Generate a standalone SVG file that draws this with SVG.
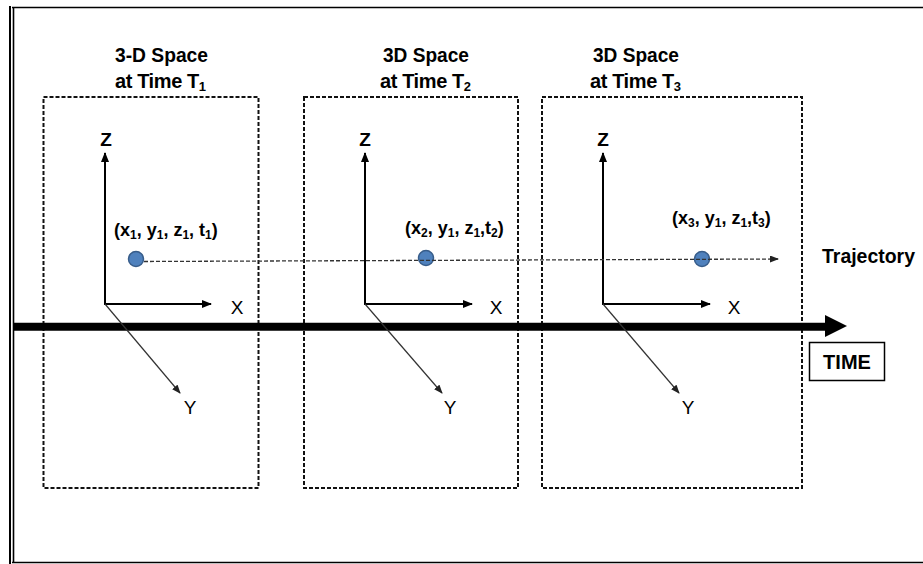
<svg xmlns="http://www.w3.org/2000/svg" width="923" height="564" viewBox="0 0 923 564">
<defs>
<style>
.t{font-family:"Liberation Sans",Arial,sans-serif;font-weight:bold;fill:#000}
.ax{font-family:"Liberation Sans",Arial,sans-serif;font-size:19px;fill:#000}
.box{fill:none;stroke:#111;stroke-width:2;stroke-dasharray:4 2}
.axis{stroke:#000;stroke-width:2;fill:none}
.yaxis{stroke:#333;stroke-width:1.2;fill:none}
.pt{fill:#4F81BD;stroke:#385D8A;stroke-width:1.5}
.ttl{letter-spacing:-0.4px}
</style>
<marker id="ah" markerWidth="10" markerHeight="8" refX="9" refY="4" orient="auto" markerUnits="userSpaceOnUse">
<path d="M0,0 L10,4 L0,8 Z" fill="#000"/>
</marker>
<marker id="ahs" markerWidth="9" markerHeight="7" refX="8" refY="3.5" orient="auto" markerUnits="userSpaceOnUse">
<path d="M0,0 L9,3.5 L0,7 Z" fill="#222"/>
</marker>
</defs>
<rect width="923" height="564" fill="#fff"/>
<g id="frame" fill="none" stroke="#000">
<line x1="10" y1="6" x2="10" y2="564" stroke-width="2"/>
<line x1="13.5" y1="7.5" x2="13.5" y2="562.5" stroke-width="1.6"/>
<line x1="12" y1="7.5" x2="923" y2="7.5" stroke-width="1.6"/>
<line x1="12" y1="562.5" x2="923" y2="562.5" stroke-width="1.6"/>
</g>
<g id="space1">
<rect class="box" x="43.5" y="97" width="215" height="391"/>
<text class="t" x="115" y="62" font-size="20" textLength="93" lengthAdjust="spacingAndGlyphs">3-D Space</text>
<text class="t ttl" x="115" y="88" font-size="20">at Time T<tspan font-size="13" dy="3">1</tspan></text>
</g>
<g id="space2">
<rect class="box" x="304" y="97" width="214" height="391"/>
<text class="t" x="383" y="62" font-size="20" textLength="86" lengthAdjust="spacingAndGlyphs">3D Space</text>
<text class="t ttl" x="380" y="88" font-size="20">at Time T<tspan font-size="13" dy="3">2</tspan></text>
</g>
<g id="space3">
<rect class="box" x="542" y="97" width="260" height="391"/>
<text class="t" x="593" y="62" font-size="20" textLength="86" lengthAdjust="spacingAndGlyphs">3D Space</text>
<text class="t ttl" x="590" y="88" font-size="20">at Time T<tspan font-size="13" dy="3">3</tspan></text>
</g>
<g id="time">
<line x1="14" y1="326.7" x2="826" y2="326.7" stroke="#000" stroke-width="8"/>
<polygon points="825,315 847,326 825,337" fill="#000"/>
<rect x="809.5" y="342.5" width="75" height="38" fill="#fff" stroke="#000" stroke-width="1.5"/>
<text class="t" x="847" y="368.5" font-size="20" text-anchor="middle">TIME</text>
</g>
<g id="axes1">
<line class="axis" x1="105" y1="305" x2="105" y2="153" marker-end="url(#ah)"/>
<line class="axis" x1="104" y1="304" x2="211" y2="304" marker-end="url(#ah)"/>
<line class="yaxis" x1="105" y1="304" x2="180" y2="393" marker-end="url(#ahs)"/>
<text class="t" x="106" y="146" font-size="19" text-anchor="middle">Z</text>
<text class="ax" x="237" y="314" text-anchor="middle">X</text>
<text class="ax" x="190" y="414" text-anchor="middle">Y</text>
</g>
<g id="axes2">
<line class="axis" x1="365" y1="305" x2="365" y2="153" marker-end="url(#ah)"/>
<line class="axis" x1="364" y1="304" x2="472" y2="304" marker-end="url(#ah)"/>
<line class="yaxis" x1="365" y1="304" x2="442" y2="393" marker-end="url(#ahs)"/>
<text class="t" x="365" y="146" font-size="19" text-anchor="middle">Z</text>
<text class="ax" x="496" y="314" text-anchor="middle">X</text>
<text class="ax" x="450" y="414" text-anchor="middle">Y</text>
</g>
<g id="axes3">
<line class="axis" x1="603" y1="305" x2="603" y2="153" marker-end="url(#ah)"/>
<line class="axis" x1="602" y1="304" x2="710" y2="304" marker-end="url(#ah)"/>
<line class="yaxis" x1="603" y1="304" x2="679" y2="393" marker-end="url(#ahs)"/>
<text class="t" x="603" y="146" font-size="19" text-anchor="middle">Z</text>
<text class="ax" x="734" y="314" text-anchor="middle">X</text>
<text class="ax" x="688" y="414" text-anchor="middle">Y</text>
</g>
<g id="point1">
<circle class="pt" cx="136" cy="259" r="7.5"/>
<text class="t" x="114" y="236" font-size="18">(x<tspan font-size="12" dy="3">1</tspan><tspan dy="-3">, y</tspan><tspan font-size="12" dy="3">1</tspan><tspan dy="-3">, z</tspan><tspan font-size="12" dy="3">1</tspan><tspan dy="-3">, t</tspan><tspan font-size="12" dy="3">1</tspan><tspan dy="-3">)</tspan></text>
</g>
<g id="point2">
<circle class="pt" cx="426" cy="258" r="7.5"/>
<text class="t" x="405" y="234" font-size="18">(x<tspan font-size="12" dy="3">2</tspan><tspan dy="-3">, y</tspan><tspan font-size="12" dy="3">1</tspan><tspan dy="-3">, z</tspan><tspan font-size="12" dy="3">1</tspan><tspan dy="-3">,t</tspan><tspan font-size="12" dy="3">2</tspan><tspan dy="-3">)</tspan></text>
</g>
<g id="point3">
<circle class="pt" cx="702" cy="259" r="7.5"/>
<text class="t" x="672" y="224" font-size="18">(x<tspan font-size="12" dy="3">3</tspan><tspan dy="-3">, y</tspan><tspan font-size="12" dy="3">1</tspan><tspan dy="-3">, z</tspan><tspan font-size="12" dy="3">1</tspan><tspan dy="-3">,t</tspan><tspan font-size="12" dy="3">3</tspan><tspan dy="-3">)</tspan></text>
</g>
<g id="connectors">
<line x1="144" y1="261.5" x2="778" y2="259" stroke="#333" stroke-width="1.3" stroke-dasharray="4 2" marker-end="url(#ahs)"/>
</g>
<text class="t" x="822" y="263" font-size="20" textLength="93" lengthAdjust="spacingAndGlyphs">Trajectory</text>
</svg>
